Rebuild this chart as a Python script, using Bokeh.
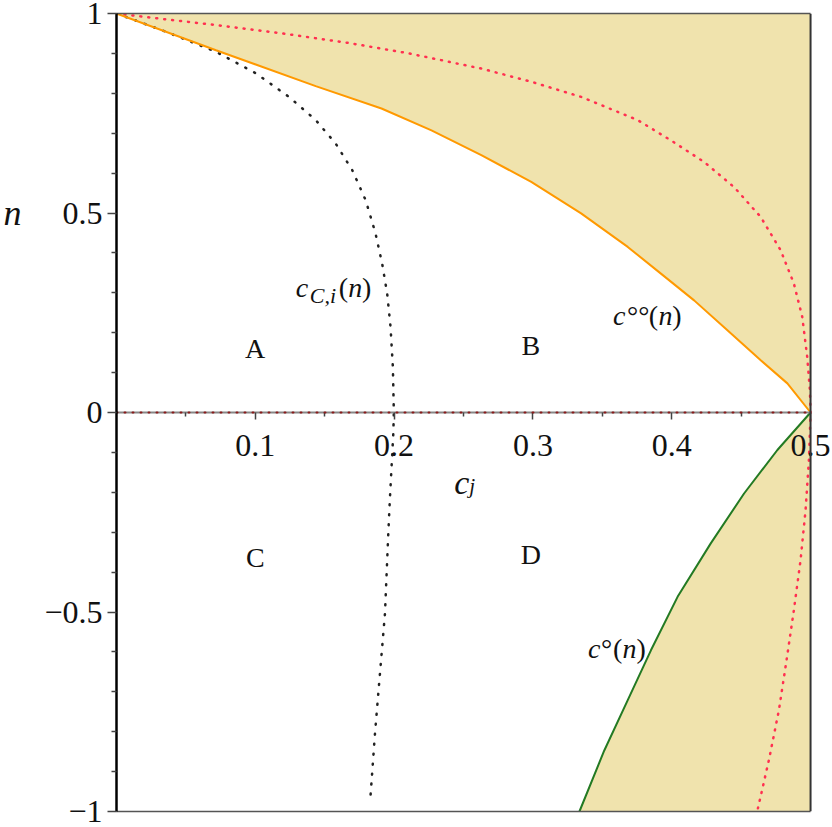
from bokeh.plotting import figure
from bokeh.models import Range1d, LinearAxis, FixedTicker, Label, Span
from bokeh.embed import file_html
from bokeh.resources import INLINE

# curves: (c_j, n)
c_oo_c = [0.0, 0.0717, 0.1435, 0.1909, 0.2269, 0.2628, 0.2988, 0.3347, 0.3683, 0.3922,
          0.4161, 0.4401, 0.4641, 0.4833, 0.5]
c_oo_n = [1.0, 0.908, 0.818, 0.762, 0.707, 0.645, 0.578, 0.499, 0.415, 0.348,
          0.281, 0.206, 0.131, 0.073, 0.0]

c_o_c = [0.5, 0.4761, 0.4521, 0.4281, 0.4042, 0.385, 0.3683, 0.3514, 0.3335]
c_o_n = [0.0, -0.094, -0.203, -0.328, -0.462, -0.596, -0.721, -0.847, -1.0]

c_ci_c = [0.0, 0.0358, 0.0717, 0.1004, 0.1243, 0.1435, 0.1579, 0.1699, 0.1795, 0.1866,
          0.1914, 0.1950, 0.1974, 0.1991, 0.1998, 0.1994, 0.1969, 0.1958, 0.1934,
          0.191, 0.1886, 0.1862, 0.1826]
c_ci_n = [1.0, 0.954, 0.904, 0.850, 0.791, 0.733, 0.674, 0.607, 0.532, 0.449,
          0.373, 0.298, 0.215, 0.114, 0.0, -0.053, -0.22, -0.303, -0.504,
          -0.604, -0.704, -0.805, -0.98]

red_c = [0.0, 0.0214, 0.0717, 0.1196, 0.1675, 0.2106, 0.2628, 0.2988, 0.3347, 0.3754,
         0.3994, 0.4233, 0.4449, 0.4641, 0.4784, 0.4880, 0.494, 0.4976, 0.4995, 0.5,
         0.4988, 0.4964, 0.4928, 0.4880, 0.4827, 0.4772, 0.4700, 0.4621]
red_n = [1.0, 0.991, 0.971, 0.950, 0.926, 0.900, 0.862, 0.829, 0.791, 0.733,
         0.682, 0.628, 0.565, 0.490, 0.407, 0.323, 0.240, 0.139, 0.056, 0.0,
         -0.12, -0.245, -0.370, -0.495, -0.621, -0.746, -0.871, -0.992]

x_ticks = [0.1, 0.2, 0.3, 0.4, 0.5]
x_tick_labels = ["0.1", "0.2", "0.3", "0.4", "0.5"]
x_minor = [0.05, 0.15, 0.25, 0.35, 0.45]
y_ticks = [-1, -0.5, 0, 0.5, 1]
y_tick_labels = ["\u22121", "\u22120.5", "0", "0.5", "1"]
y_minor = [-0.9, -0.8, -0.7, -0.6, -0.4, -0.3, -0.2, -0.1,
           0.1, 0.2, 0.3, 0.4, 0.6, 0.7, 0.8, 0.9]

regions = ["A", "B", "C", "D"]
region_c = [0.0999, 0.2985, 0.1, 0.2985]
region_n = [0.1612, 0.1687, -0.3627, -0.3551]

X_MAX = 0.5            # right edge of the plotted box
X_END = 0.51437        # range goes a little further so the "0.5" label is not clipped
SERIF = "Liberation Serif"
FILL = "#F0E3AD"
BORDER = "#555555"

p = figure(width=830, height=826, x_range=Range1d(0, X_END), y_range=Range1d(-1, 1),
           x_axis_location=None, output_backend="svg", toolbar_location=None,
           min_border_left=114, min_border_right=0, min_border_top=13, min_border_bottom=15)
for g in p.grid:
    g.visible = False
p.outline_line_color = None

# shaded regions
p.harea(y=c_oo_n, x1=c_oo_c, x2=X_MAX, fill_color=FILL)
p.harea(y=c_o_n, x1=c_o_c, x2=X_MAX, fill_color=FILL)

p.line(red_c, red_n, line_color="#FF3050", line_width=2.5, line_dash="1 7", line_cap="round")
p.line(c_ci_c, c_ci_n, line_color="#222222", line_width=2.5, line_dash="1 9", line_cap="round")
p.line(c_oo_c, c_oo_n, line_color="#FF9900", line_width=2)
p.line(c_o_c, c_o_n, line_color="#237A23", line_width=2)


def bare_axis(**kw):
    ax = LinearAxis(bounds=(0, X_MAX), ticker=FixedTicker(ticks=[]), **kw)
    ax.major_tick_line_color = None
    ax.minor_tick_line_color = None
    ax.major_label_text_font_size = "0px"
    return ax


# box edges
p.add_layout(bare_axis(axis_line_color=BORDER, axis_line_width=1.5), "above")
p.add_layout(bare_axis(axis_line_color=BORDER, axis_line_width=1.5), "below")
p.add_layout(Span(location=X_MAX, dimension="height", line_color="#333333", line_width=2))

# vertical axis
yax = p.yaxis[0]
yax.ticker = FixedTicker(ticks=y_ticks, minor_ticks=y_minor)
yax.major_label_overrides = dict(zip(y_ticks, y_tick_labels))
yax.axis_line_color = "black"
yax.axis_line_width = 2.5
yax.major_tick_in = 0
yax.major_tick_out = 9
yax.minor_tick_in = 0
yax.minor_tick_out = 5
yax.major_tick_line_color = "#444444"
yax.minor_tick_line_color = "#444444"
yax.major_tick_line_width = 1.5
yax.minor_tick_line_width = 1.5
yax.major_label_standoff = 5
yax.major_label_text_font = SERIF
yax.major_label_text_font_size = "32px"
yax.major_label_text_color = "#111111"

# axis name n, placed level with n = 0.5 by an outer axis carrying a single label
name_ax = LinearAxis(ticker=FixedTicker(ticks=[0.5]), major_label_overrides={0.5: "n"})
name_ax.axis_line_color = None
name_ax.major_tick_line_color = None
name_ax.minor_tick_line_color = None
name_ax.major_label_standoff = 14
name_ax.major_label_text_font = SERIF
name_ax.major_label_text_font_style = "italic"
name_ax.major_label_text_font_size = "36px"
name_ax.major_label_text_color = "#111111"
p.add_layout(name_ax, "left")

# horizontal axis sits on n = 0 inside the frame
xax = LinearAxis(fixed_location=0, bounds=(0, X_MAX),
                 ticker=FixedTicker(ticks=x_ticks, minor_ticks=x_minor))
xax.major_label_overrides = dict(zip(x_ticks, x_tick_labels))
xax.axis_line_color = "#888888"
xax.axis_line_width = 2
xax.major_tick_in = 0
xax.major_tick_out = 7
xax.minor_tick_in = 0
xax.minor_tick_out = 4
xax.major_tick_line_color = "#444444"
xax.minor_tick_line_color = "#444444"
xax.major_tick_line_width = 1.5
xax.minor_tick_line_width = 1.5
xax.major_label_standoff = 15
xax.major_label_text_font = SERIF
xax.major_label_text_font_size = "32px"
xax.major_label_text_color = "#111111"
p.add_layout(xax, "below")

# dark red dotted trace lying on n = 0
p.add_layout(bare_axis(fixed_location=0, axis_line_color="#8B1A1A", axis_line_width=2,
                       axis_line_dash="1 7", axis_line_cap="round"), "below")


def put(text, x, y, size, italic=True, align="left"):
    p.add_layout(Label(x=x, y=y, text=text, text_font=SERIF,
                       text_font_style="italic" if italic else "normal",
                       text_font_size=f"{size}px", text_align=align,
                       text_baseline="alphabetic", text_color="#111111"))


for name, cx, ny in zip(regions, region_c, region_n):
    put(name, cx, ny, 28, italic=False, align="center")

# c_j
put("c", 0.2434, -0.1747, 34)
put("j", 0.2542, -0.1847, 21)

# c_{C,i}(n)
put("c", 0.1291, 0.314, 28)
put("C,i", 0.1392, 0.294, 22)
put("(", 0.1601, 0.314, 28, italic=False)
put("n", 0.1669, 0.314, 28)
put(")", 0.1769, 0.314, 28, italic=False)

# c°°(n)
put("c", 0.3577, 0.2439, 28)
put("\u00b0\u00b0", 0.3678, 0.2439, 28, italic=False)
put("(", 0.3835, 0.2439, 28, italic=False)
put("n", 0.3904, 0.2439, 28)
put(")", 0.4004, 0.2439, 28, italic=False)

# c°(n)
put("c", 0.3397, -0.5907, 28)
put("\u00b0", 0.349, -0.5907, 28, italic=False)
put("(", 0.3577, -0.5907, 28, italic=False)
put("n", 0.3645, -0.5907, 28)
put(")", 0.3746, -0.5907, 28, italic=False)

open("out.html", "w").write(file_html(p, INLINE))
